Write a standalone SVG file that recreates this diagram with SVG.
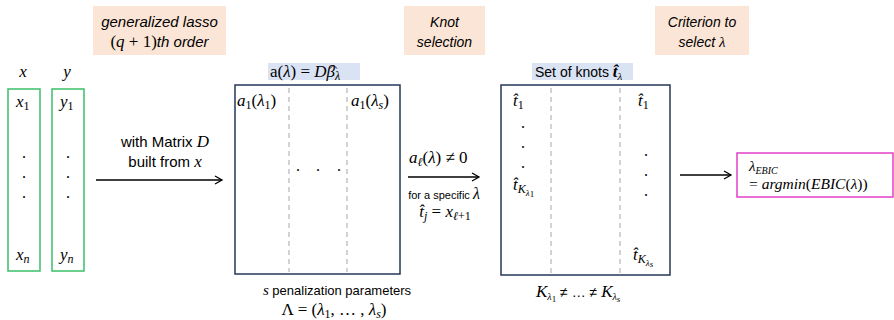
<svg xmlns="http://www.w3.org/2000/svg" width="894" height="320" viewBox="0 0 894 320">
<style>
.lbl{fill:#fbe5d6}
.hl{fill:#dae3f3}
.sans{font-family:"Liberation Sans","Open Sans",sans-serif;font-size:13px;fill:#000}
.isans{font-family:"Liberation Sans","Open Sans",sans-serif;font-size:14px;font-style:italic;fill:#000}
.m{font-family:"Liberation Serif","DejaVu Serif",serif;font-size:17px;font-style:italic;fill:#000}
.mr{font-family:"Liberation Serif","DejaVu Serif",serif;font-size:17px;fill:#000}
.sub{font-size:12px}
.ssub{font-size:9px}
.gbox{fill:none;stroke:#3cbf68;stroke-width:1.5}
.mat{fill:#fff;stroke:#26375a;stroke-width:1.5}
.dash{stroke:#a6a6a6;stroke-width:1;stroke-dasharray:5,4}
.conn{stroke:#000;stroke-width:1.3;fill:none;marker-end:url(#ah)}
.dot{font-family:"Liberation Serif",serif;font-size:16px;fill:#000}
</style>
<defs>
<marker id="ah" markerWidth="10" markerHeight="10" refX="8" refY="5" orient="auto" markerUnits="userSpaceOnUse">
<path d="M1,1 L8,5 L1,9" fill="none" stroke="#000" stroke-width="1.3"/>
</marker>
</defs>
<rect width="894" height="320" fill="#fff"/>

<g id="label-lasso">
<rect class="lbl" x="93" y="6" width="133" height="49"/>
<text class="isans" x="159.5" y="27" text-anchor="middle" style="font-size:15px">generalized lasso</text>
<text class="isans" x="159.5" y="47" text-anchor="middle" style="font-size:15px"><tspan class="mr" style="font-style:normal">(</tspan><tspan class="m">q</tspan><tspan class="mr" style="font-style:normal"> + 1)</tspan>th order</text>
</g>
<g id="label-knot">
<rect class="lbl" x="404" y="6" width="81" height="49"/>
<text class="isans" x="444.5" y="27" text-anchor="middle">Knot</text>
<text class="isans" x="444.5" y="47" text-anchor="middle">selection</text>
</g>
<g id="label-criterion">
<rect class="lbl" x="655" y="6" width="94" height="49"/>
<text class="isans" x="702" y="27" text-anchor="middle">Criterion to</text>
<text class="isans" x="702" y="47" text-anchor="middle">select <tspan class="m" style="font-size:15px">λ</tspan></text>
</g>

<g id="col-x">
<text class="m" x="23" y="77" text-anchor="middle">x</text>
<rect class="gbox" x="8" y="89" width="32" height="182"/>
<text class="m" x="16" y="107">x<tspan class="sub" dy="3" font-style="normal">1</tspan></text>
<text class="dot" x="24" y="158" text-anchor="middle">.</text>
<text class="dot" x="24" y="178" text-anchor="middle">.</text>
<text class="dot" x="24" y="198" text-anchor="middle">.</text>
<text class="m" x="16" y="260">x<tspan class="sub" dy="3">n</tspan></text>
</g>
<g id="col-y">
<text class="m" x="67" y="77" text-anchor="middle">y</text>
<rect class="gbox" x="52" y="89" width="32" height="182"/>
<text class="m" x="60" y="107">y<tspan class="sub" dy="3" font-style="normal">1</tspan></text>
<text class="dot" x="68" y="158" text-anchor="middle">.</text>
<text class="dot" x="68" y="178" text-anchor="middle">.</text>
<text class="dot" x="68" y="198" text-anchor="middle">.</text>
<text class="m" x="60" y="260">y<tspan class="sub" dy="3">n</tspan></text>
</g>

<g id="matrix-a">
<rect class="hl" x="268" y="63" width="92" height="17"/>
<text class="mr" x="270" y="77">a(<tspan font-style="italic">λ</tspan>) =  <tspan font-style="italic">Dβ</tspan><tspan class="sub" font-style="italic" dy="3">λ</tspan></text>
<path d="M330,68.5 L333.5,65 L337,68.5" fill="none" stroke="#000" stroke-width="0.9"/>
<rect class="mat" x="235" y="85" width="165" height="189"/>
<line class="dash" x1="289" y1="88" x2="289" y2="272"/>
<line class="dash" x1="347" y1="88" x2="347" y2="272"/>
<text class="m" x="237" y="106">a<tspan class="sub" dy="3" font-style="normal">1</tspan><tspan dy="-3" font-style="normal">(</tspan>λ<tspan class="sub" dy="3" font-style="normal">1</tspan><tspan dy="-3" font-style="normal">)</tspan></text>
<text class="m" x="351" y="106">a<tspan class="sub" dy="3" font-style="normal">1</tspan><tspan dy="-3" font-style="normal">(</tspan>λ<tspan class="sub" dy="3">s</tspan><tspan dy="-3" font-style="normal">)</tspan></text>
<text class="dot" x="298" y="171" text-anchor="middle">.</text>
<text class="dot" x="318" y="171" text-anchor="middle">.</text>
<text class="dot" x="339" y="171" text-anchor="middle">.</text>
<text class="sans" x="337" y="295" text-anchor="middle"><tspan class="m" style="font-size:15px">s</tspan> penalization parameters</text>
<text class="mr" x="334" y="315" text-anchor="middle">Λ = (<tspan font-style="italic">λ</tspan><tspan class="sub" dy="3">1</tspan><tspan dy="-3">, … , </tspan><tspan font-style="italic">λ</tspan><tspan class="sub" font-style="italic" dy="3">s</tspan><tspan dy="-3">)</tspan></text>
</g>

<g id="matrix-knots">
<rect class="hl" x="532" y="63" width="101" height="17"/>
<text class="sans" x="535" y="77" style="font-size:14px">Set of knots <tspan font-family="Liberation Serif,serif" font-weight="bold" font-style="italic" font-size="17">t̂</tspan><tspan font-family="Liberation Serif,serif" font-style="italic" font-size="11" dy="3">λ</tspan></text>
<rect class="mat" x="501" y="85" width="169" height="190"/>
<line class="dash" x1="551" y1="88" x2="551" y2="273"/>
<line class="dash" x1="620" y1="88" x2="620" y2="273"/>
<text class="m" x="513" y="106">t̂<tspan class="sub" dy="3" font-style="normal">1</tspan></text>
<text class="dot" x="523" y="128" text-anchor="middle">.</text>
<text class="dot" x="523" y="148" text-anchor="middle">.</text>
<text class="dot" x="523" y="168" text-anchor="middle">.</text>
<text class="m" x="513" y="190">t̂<tspan class="sub" dy="3">K</tspan><tspan class="ssub" dy="3">λ</tspan><tspan class="ssub" dy="1" font-style="normal">1</tspan></text>
<text class="m" x="638" y="106">t̂<tspan class="sub" dy="3" font-style="normal">1</tspan></text>
<text class="dot" x="646" y="156" text-anchor="middle">.</text>
<text class="dot" x="646" y="176" text-anchor="middle">.</text>
<text class="dot" x="646" y="196" text-anchor="middle">.</text>
<text class="m" x="633" y="260">t̂<tspan class="sub" dy="3">K</tspan><tspan class="ssub" dy="3">λ</tspan><tspan class="ssub" dy="1">s</tspan></text>
<text class="m" x="536" y="297">K<tspan class="ssub" dy="3" style="font-size:10px">λ</tspan><tspan class="ssub" dy="2" font-style="normal">1</tspan><tspan class="sans" dy="-5" font-style="normal" style="font-size:14px"> ≠ … ≠ </tspan>K<tspan class="ssub" dy="3" style="font-size:10px">λ</tspan><tspan class="ssub" dy="2">s</tspan></text>
</g>

<g id="result">
<rect x="737" y="153" width="156" height="44" fill="#fff" stroke="#e040c8" stroke-width="1.5"/>
<text class="m" x="749" y="171" style="font-size:15px">λ<tspan style="font-size:10px" dy="3">EBIC</tspan></text>
<text class="m" x="749" y="189" style="font-size:15.5px"><tspan font-style="normal">= </tspan>argmin<tspan font-style="normal">(</tspan>EBIC<tspan font-style="normal">(</tspan>λ<tspan font-style="normal">))</tspan></text>
</g>

<g id="connectors">
<line class="conn" x1="96" y1="180" x2="222" y2="180"/>
<text class="sans" x="165" y="147" text-anchor="middle" style="font-size:15px">with Matrix <tspan class="m">D</tspan></text>
<text class="sans" x="165" y="167" text-anchor="middle" style="font-size:15px">built from <tspan class="m">x</tspan></text>
<line class="conn" x1="408" y1="177" x2="479" y2="177"/>
<text class="m" x="409" y="163">a<tspan class="sub" dy="3">ℓ</tspan><tspan dy="-3" font-style="normal">(</tspan>λ<tspan font-style="normal">) ≠ 0</tspan></text>
<text class="sans" x="444" y="199" text-anchor="middle" style="font-size:11px">for a specific <tspan class="m" style="font-size:16px">λ</tspan></text>
<text class="m" x="445" y="217" text-anchor="middle">t̂<tspan class="sub" dy="3">j</tspan><tspan dy="-3" font-style="normal"> = </tspan>x<tspan class="sub" dy="3">ℓ<tspan font-style="normal">+1</tspan></tspan></text>
<line class="conn" x1="680" y1="175" x2="731" y2="175"/>
</g>
</svg>
